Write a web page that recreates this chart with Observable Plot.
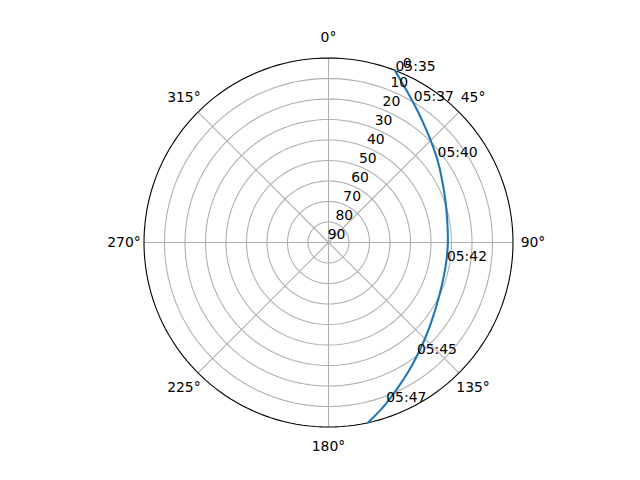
<!DOCTYPE html>
<html>
<head>
<meta charset="utf-8">
<script src="https://cdn.jsdelivr.net/npm/d3@7"></script>
<script src="https://cdn.jsdelivr.net/npm/@observablehq/plot@0.6"></script>
<style>
  html, body { margin: 0; padding: 0; background: #ffffff; }
  #chart { width: 640px; height: 480px; }
</style>
</head>
<body>
<div id="chart"></div>
<script>
// Satellite pass track: azimuth (deg, clockwise from North) and elevation (deg)
const trackAz = [21.1, 25.6, 29.9, 34.5, 39.3, 44.4, 49.7, 55.1, 60.7, 70.2, 79.5, 91.4, 101.9, 116.0, 128.5, 135.7, 141.9, 148.5, 154.9, 159.8, 162.3, 167.7];
const trackEl = [0.0, 5.1, 9.1, 12.8, 16.2, 19.2, 21.9, 24.3, 26.6, 29.4, 31.1, 31.8, 31.7, 30.0, 26.3, 23.2, 19.9, 15.8, 11.2, 7.0, 4.8, 0.0];

// Time labels along the pass
const timeLabels = ["05:35", "05:37", "05:40", "05:42", "05:45", "05:47"];
const timeAz = [21.3, 31.1, 52.0, 99.0, 141.7, 160.1];
const timeEl = [0.0, 9.4, 22.5, 31.5, 20.4, 7.2];

// Axis ticks
const thetaTicks = [0, 45, 90, 135, 180, 225, 270, 315];
const rTicks = [0, 10, 20, 30, 40, 50, 60, 70, 80, 90];
const rLabelAngle = 22.5;

const rad = Math.PI / 180;
const px = (az, el) => (90 - el) * Math.sin(az * rad);
const py = (az, el) => (90 - el) * Math.cos(az * rad);

const track = trackAz.map((az, i) => ({az, el: trackEl[i]}));
const times = timeLabels.map((t, i) => ({t, az: timeAz[i], el: timeEl[i]}));
const ringAngles = d3.range(0, 361, 2);
const rings = rTicks.filter(v => v > 0 && v < 90)
  .flatMap(v => ringAngles.map(a => ({v, az: a, el: v})));
const outer = ringAngles.map(a => ({az: a, el: 0}));
const spokes = thetaTicks.map(a => ({az: a}));

const font = "DejaVu Sans, Liberation Sans, sans-serif";
const fs = 13.9;

const chart = Plot.plot({
  width: 640,
  height: 480,
  marginLeft: 143.5,
  marginRight: 127.5,
  marginTop: 57.5,
  marginBottom: 53.5,
  x: {domain: [-90, 90], axis: null},
  y: {domain: [-90, 90], axis: null},
  style: {fontFamily: font, fontSize: fs + "px", background: "#ffffff", overflow: "visible"},
  marks: [
    Plot.line(rings, {x: d => px(d.az, d.el), y: d => py(d.az, d.el), z: "v", stroke: "#b0b0b0", strokeWidth: 1.1}),
    Plot.link(spokes, {
      x1: d => px(d.az, 90), y1: d => py(d.az, 90),
      x2: d => px(d.az, 0), y2: d => py(d.az, 0),
      stroke: "#b0b0b0", strokeWidth: 1.1
    }),
    Plot.line(outer, {x: d => px(d.az, d.el), y: d => py(d.az, d.el), stroke: "#000000", strokeWidth: 1.1}),
    Plot.line(track, {x: d => px(d.az, d.el), y: d => py(d.az, d.el), stroke: "#1f77b4", strokeWidth: 2.1, curve: "catmull-rom"}),
    Plot.text(thetaTicks, {
      x: a => px(a, -9.75), y: a => py(a, -9.75),
      text: a => a + "°", textAnchor: "middle", lineAnchor: "middle",
      fill: "#000000", fontSize: fs
    }),
    Plot.text(rTicks, {
      x: v => px(rLabelAngle, v), y: v => py(rLabelAngle, v),
      text: v => String(v), dx: 8, dy: -8,
      textAnchor: "middle", lineAnchor: "middle",
      fill: "#000000", fontSize: fs
    }),
    Plot.text(times, {
      x: d => px(d.az, d.el), y: d => py(d.az, d.el),
      text: "t", textAnchor: "start", lineAnchor: "bottom",
      fill: "#000000", fontSize: fs
    })
  ]
});
document.getElementById("chart").appendChild(chart);
</script>
</body>
</html>
